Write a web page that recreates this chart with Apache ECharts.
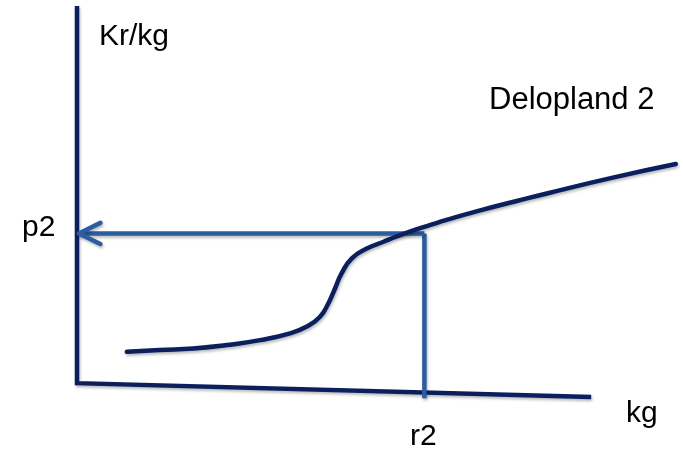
<!DOCTYPE html>
<html>
<head>
<meta charset="utf-8">
<script src="https://cdn.jsdelivr.net/npm/echarts@6/dist/echarts.min.js"></script>
<style>
html,body{margin:0;padding:0;background:#fff;}
#chart{width:683px;height:450px;}
</style>
</head>
<body>
<div id="chart"></div>
<script>
// Supply curve "Delopland 2" (x = kg, y = Kr/kg)
const curveX = [8.3, 13.8, 19.4, 25.0, 30.5, 35.5, 38.3, 40.5, 41.9, 43.0, 44.1, 45.8, 48.3, 51.1, 53.3, 56.05, 58.8, 61.6, 67.2, 73.3, 78.3, 89.3, 99.8];
const curveY = [8.3, 8.8, 9.2, 10.1, 11.4, 13.2, 15.0, 17.6, 21.2, 25.1, 29.1, 33.1, 35.7, 37.5, 38.9, 40.5, 41.9, 43.3, 45.8, 48.3, 50.3, 54.5, 58.1];
// Axes drawn as hand-drawn lines
const axisX = [0, 0, 85.7];
const axisY = [100, 0, -3.7];
// Equilibrium point (r2, p2)
const r2 = 57.9;
const p2 = 39.7;
const xAxisAtR2 = -4.0;
// Arrowhead chevron at the price axis
const arrowX = [3.9, 0.3, 3.9];
const arrowY = [42.5, 39.7, 36.9];
// Labels
const labels = { yName: 'Kr/kg', xName: 'kg', curveName: 'Delopland 2', pLabel: 'p2', rLabel: 'r2' };

const zip = (xs, ys) => xs.map((x, i) => [x, ys[i]]);
const navy = '#0b1f5e';
const blue = '#2c5da0';
const shadow = { shadowColor: 'rgba(0,0,0,0.28)', shadowBlur: 3, shadowOffsetX: 1, shadowOffsetY: 2 };
const font = '30px "Liberation Sans", Arial, sans-serif';
const fontBig = '31px "Liberation Sans", Arial, sans-serif';

const chart = echarts.init(document.getElementById('chart'), null, { renderer: 'canvas' });
chart.setOption({
  animation: false,
  backgroundColor: '#fff',
  grid: { left: 77, right: 6, top: 6, bottom: 48 },
  xAxis: { type: 'value', min: 0, max: 100, show: false },
  yAxis: { type: 'value', min: -5, max: 100, show: false },
  series: [
    {
      type: 'line', data: zip(axisX, axisY), symbol: 'none', z: 2,
      lineStyle: Object.assign({ color: navy, width: 4.5, join: 'miter' }, shadow)
    },
    {
      type: 'line', data: [[r2, p2], [r2, xAxisAtR2]], symbol: 'none', z: 3,
      lineStyle: Object.assign({ color: blue, width: 4.5 }, shadow)
    },
    {
      type: 'line', data: [[r2, p2], [0.3, p2]], symbol: 'none', z: 3,
      lineStyle: Object.assign({ color: blue, width: 4.5 }, shadow)
    },
    {
      type: 'line', data: zip(arrowX, arrowY), symbol: 'none', z: 3,
      lineStyle: Object.assign({ color: blue, width: 4.5, cap: 'round', join: 'round' }, shadow)
    },
    {
      type: 'line', data: zip(curveX, curveY), symbol: 'none', smooth: 0.5, z: 4,
      lineStyle: Object.assign({ color: navy, width: 4.5, cap: 'round' }, shadow)
    }
  ],
  graphic: [
    { type: 'text', x: 99, y: 37, style: { text: labels.yName, font: font, fill: '#000', verticalAlign: 'middle' } },
    { type: 'text', x: 489, y: 100, style: { text: labels.curveName, font: fontBig, fill: '#000', verticalAlign: 'middle' } },
    { type: 'text', x: 22, y: 228, style: { text: labels.pLabel, font: font, fill: '#000', verticalAlign: 'middle' } },
    { type: 'text', x: 410, y: 437, style: { text: labels.rLabel, font: font, fill: '#000', verticalAlign: 'middle' } },
    { type: 'text', x: 626, y: 414, style: { text: labels.xName, font: font, fill: '#000', verticalAlign: 'middle' } }
  ]
});
</script>
</body>
</html>
